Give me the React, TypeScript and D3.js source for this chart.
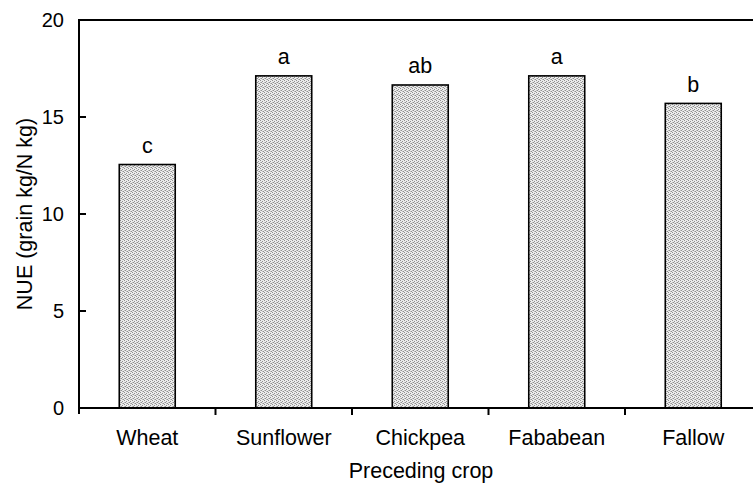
import React from "react";
import * as d3 from "d3";

const categories = ["Wheat", "Sunflower", "Chickpea", "Fababean", "Fallow"];
const values = [12.55, 17.12, 16.65, 17.12, 15.7];
const letters = ["c", "a", "ab", "a", "b"];
const yTicks = [0, 5, 10, 15, 20];
const yLabel = "NUE (grain kg/N kg)";
const xLabel = "Preceding crop";

const W = 753;
const H = 483;
const left = 79;
const top = 20;
const bottom = 408;
const FONT = "'Liberation Sans', Arial, sans-serif";

export default function App() {
  const y = d3.scaleLinear().domain([0, 20]).range([bottom, top]);
  const x = d3
    .scaleBand<string>()
    .domain(categories)
    .range([left, left + 136.5 * categories.length])
    .paddingInner(0)
    .paddingOuter(0);
  const bw = x.bandwidth();
  const barW = bw * 0.41;
  const boundaries = categories.map((c) => x(c) as number);

  return (
    <svg
      width={W}
      height={H}
      style={{ position: "absolute", left: 0, top: 0, background: "#fff" }}
      fontFamily={FONT}
    >
      <defs>
        <pattern id="stip" width={4} height={4} patternUnits="userSpaceOnUse">
          <rect width={4} height={4} fill="#ececec" />
          <rect x={0} y={0} width={1} height={1} fill="#909090" />
          <rect x={2} y={1} width={1} height={1} fill="#909090" />
          <rect x={1} y={2} width={1} height={1} fill="#909090" />
          <rect x={3} y={3} width={1} height={1} fill="#909090" />
          <rect x={2} y={3} width={1} height={1} fill="#bdbdbd" />
          <rect x={0} y={2} width={1} height={1} fill="#bdbdbd" />
        </pattern>
      </defs>

      {/* bars */}
      {categories.map((c, i) => {
        const bx = (x(c) as number) + (bw - barW) / 2;
        const by = y(values[i]);
        return (
          <g key={c}>
            <rect
              x={bx}
              y={by}
              width={barW}
              height={bottom - by}
              fill="url(#stip)"
              stroke="#000"
              strokeWidth={1.6}
            />
            <text
              x={bx + barW / 2}
              y={by - 11.5}
              textAnchor="middle"
              fontSize={21.5}
              fill="#000"
            >
              {letters[i]}
            </text>
          </g>
        );
      })}

      {/* axes frame */}
      <line x1={left} x2={W} y1={top} y2={top} stroke="#000" strokeWidth={2} />
      <line x1={left} x2={left} y1={top - 1} y2={bottom + 6} stroke="#000" strokeWidth={2} />
      <line x1={left - 1} x2={W} y1={bottom} y2={bottom} stroke="#000" strokeWidth={2} />

      {/* y ticks */}
      {yTicks.map((t) => (
        <g key={t}>
          {t !== 0 && t !== 20 && (
            <line x1={left} x2={left + 7} y1={y(t)} y2={y(t)} stroke="#000" strokeWidth={2} />
          )}
          <text
            x={left - 15}
            y={y(t)}
            dy="0.36em"
            textAnchor="end"
            fontSize={20}
            fill="#000"
          >
            {t}
          </text>
        </g>
      ))}

      {/* x ticks at boundaries */}
      {boundaries.slice(1).map((bx, i) => (
        <line key={i} x1={bx} x2={bx} y1={bottom} y2={bottom + 7} stroke="#000" strokeWidth={2} />
      ))}

      {/* category labels */}
      {categories.map((c) => (
        <text
          key={c}
          x={(x(c) as number) + bw / 2}
          y={445}
          textAnchor="middle"
          fontSize={21.5}
          fill="#000"
        >
          {c}
        </text>
      ))}

      {/* axis titles */}
      <text x={421} y={477.5} textAnchor="middle" fontSize={21.5} fill="#000">
        {xLabel}
      </text>
      <text
        transform={`translate(32, ${(top + bottom) / 2}) rotate(-90)`}
        textAnchor="middle"
        fontSize={21.5}
        fill="#000"
      >
        {yLabel}
      </text>
    </svg>
  );
}
